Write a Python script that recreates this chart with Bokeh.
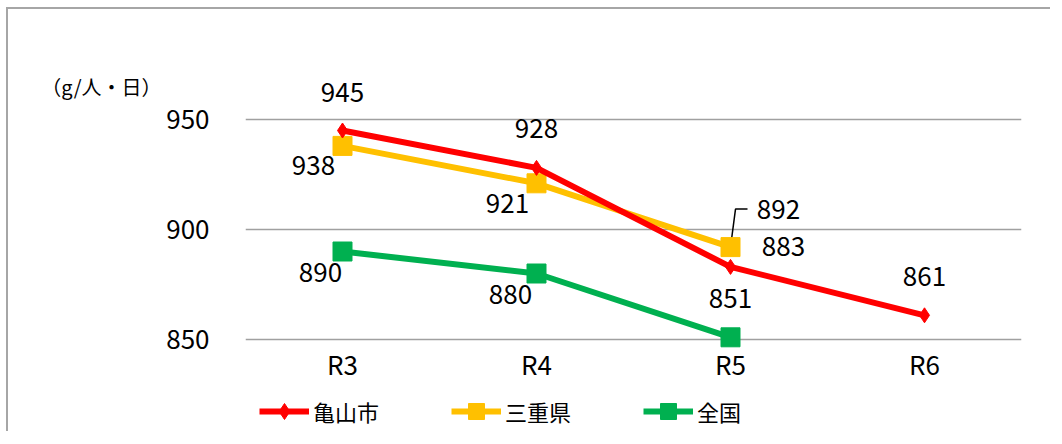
from bokeh.plotting import figure
from bokeh.models import (ColumnDataSource, FixedTicker, Legend, LegendItem, LinearAxis)
from bokeh.core.properties import value
from bokeh.embed import file_html
from bokeh.resources import INLINE

# ---- data ----
years = ["R3", "R4", "R5", "R6"]
kameyama = [945, 928, 883, 861]
mie = [938, 921, 892]
zenkoku = [890, 880, 851]
y_ticks = [850, 900, 950]
series_names = ["亀山市", "三重県", "全国"]
unit_label = "（g/人・日）"
unit_label_level = 965

# ---- label offsets (px) ----
kam_dx = [0, 0, 53, 0]
kam_dy = [-38, -39, -20, -39]
mie_dx = [-29, -29, 48]
mie_dy = [20, 20, -38]
zen_dx = [-22, -26, 0]
zen_dy = [21, 21, -39]

FONT = "Noto Sans CJK JP"
RED, YEL, GRN = "#FF0000", "#FFC000", "#00B050"

PX_PER_UNIT = 2.2
FRAME_H = 358
Y1 = 970
Y0 = Y1 - FRAME_H / PX_PER_UNIT

p = figure(x_range=years, y_range=(Y0, Y1), width=1044, height=424,
           x_axis_location="above",
           output_backend="svg", toolbar_location=None,
           min_border_left=237, min_border_right=31,
           min_border_top=66, min_border_bottom=0)
p.styles = {"border-top": "2px solid #a6a6a6", "border-left": "2px solid #a6a6a6",
            "margin-left": "6px", "margin-top": "7px"}
p.outline_line_color = None
p.background_fill_color = "white"
p.border_fill_color = "white"

p.xgrid.grid_line_color = None
p.ygrid.ticker = FixedTicker(ticks=y_ticks)
p.ygrid.grid_line_color = "#a0a0a0"
p.ygrid.grid_line_width = 1.5

p.yaxis.ticker = FixedTicker(ticks=y_ticks)
for ax in (p.xaxis[0], p.yaxis[0]):
    ax.axis_line_color = None
    ax.major_tick_line_color = None
    ax.minor_tick_line_color = None
    ax.major_label_text_font = FONT
    ax.major_label_text_font_size = "26px"
    ax.major_label_text_color = "#000000"
p.yaxis.major_label_standoff = 30
p.xaxis.fixed_location = y_ticks[0]
p.xaxis.major_label_standoff = -48

# unit label as an outer left axis with a single labelled tick
unit_ax = LinearAxis(ticker=FixedTicker(ticks=[unit_label_level]),
                     major_label_overrides={unit_label_level: unit_label},
                     major_label_standoff=-4, axis_line_color=None,
                     major_tick_line_color=None, minor_tick_line_color=None,
                     major_label_text_font=FONT, major_label_text_font_size="20px",
                     major_label_text_color="#000000")
p.add_layout(unit_ax, "left")

# leader line for 三重県 R5 label
ly = mie[2] - mie_dy[2] / PX_PER_UNIT
p.line(x=[("R5", 0.0), ("R5", 5 / 194), ("R5", 17 / 194)],
       y=[mie[2], ly, ly], line_color="#000000", line_width=1.5)

kam_src = ColumnDataSource(dict(x=years, y=kameyama, t=[str(v) for v in kameyama], dx=kam_dx, dy=kam_dy))
mie_src = ColumnDataSource(dict(x=years[:3], y=mie, t=[str(v) for v in mie], dx=mie_dx, dy=mie_dy))
zen_src = ColumnDataSource(dict(x=years[:3], y=zenkoku, t=[str(v) for v in zenkoku], dx=zen_dx, dy=zen_dy))

items = []
for src, color, marker, size, name in [
    (zen_src, GRN, "square", 19, series_names[2]),
    (mie_src, YEL, "square", 19, series_names[1]),
    (kam_src, RED, "diamond", 15, series_names[0]),
]:
    l = p.line("x", "y", source=src, line_color=color, line_width=6)
    s = p.scatter("x", "y", source=src, marker=marker, size=size,
                  fill_color=color, line_color=color)
    items.append(LegendItem(label=name, renderers=[l, s]))

for src in (kam_src, mie_src, zen_src):
    p.text("x", "y", text="t", source=src, x_offset="dx", y_offset="dy",
           text_font=value(FONT), text_font_size="26px", text_color="#000000",
           text_align="center", text_baseline="middle")

legend = Legend(items=items[::-1], orientation="horizontal", location=(14, 2),
                margin=0, padding=0, spacing=72, label_standoff=4,
                glyph_width=50, glyph_height=40,
                label_text_font=FONT, label_text_font_size="22px",
                label_text_color="#000000", border_line_color=None,
                background_fill_alpha=0)
p.add_layout(legend, "center")

open("out.html", "w").write(file_html(p, INLINE))
